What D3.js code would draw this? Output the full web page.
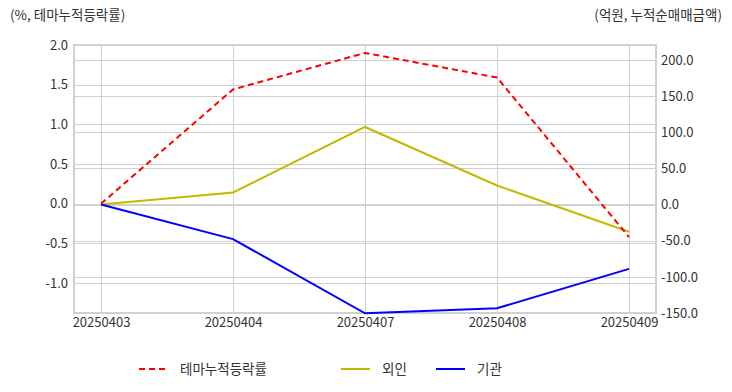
<!DOCTYPE html>
<html><head><meta charset="utf-8">
<script src="https://cdn.jsdelivr.net/npm/d3@7"></script>
<style>
html,body{margin:0;padding:0;background:#fff;}
text{font-family:"Noto Sans CJK KR","Noto Sans",sans-serif;}
</style></head>
<body><svg id="c" width="732" height="392"></svg>
<script>
const dates = ["20250403","20250404","20250407","20250408","20250409"];
const themeRate = [0.0, 1.44, 1.90, 1.59, -0.42];
const foreign = [0.0, 16.7, 107.4, 26.4, -37.5];
const inst = [0.0, -47.7, -150.4, -143.5, -88.9];
const leftTicks = [2.0, 1.5, 1.0, 0.5, 0.0, -0.5, -1.0];
const rightTicks = [200, 150, 100, 50, 0, -50, -100, -150];
const leftTitle = "(%, 테마누적등락률)";
const rightTitle = "(억원, 누적순매매금액)";
const seriesNames = ["테마누적등락률", "외인", "기관"];
const colors = ["#ff0000", "#c4b800", "#0000ff"];

const svg = d3.select("#c");
const L = 74, R = 656, T = 45, B = 313;
const x = d3.scalePoint().domain(dates).range([L, R]).padding(0.2045);
const yL = d3.scaleLinear().domain([-1.377, 2.0]).range([B, T]);
const yR = d3.scaleLinear().domain([-150, 220.8]).range([B, T]);
const grid = "#d0d0d0";
const fmt = d3.formatLocale({decimal: ".", thousands: ",", grouping: [3], currency: ["", ""], minus: "-"}).format(".1f");

// gridlines
svg.append("g").selectAll("line").data(leftTicks).join("line")
  .attr("x1", L).attr("x2", R).attr("y1", d => Math.round(yL(d)) + 0.5).attr("y2", d => Math.round(yL(d)) + 0.5)
  .attr("stroke", grid).attr("stroke-width", 1);
svg.append("g").selectAll("line").data(rightTicks).join("line")
  .attr("x1", L).attr("x2", R).attr("y1", d => Math.round(yR(d)) + 0.5).attr("y2", d => Math.round(yR(d)) + 0.5)
  .attr("stroke", grid).attr("stroke-width", 1);
svg.append("g").selectAll("line").data(dates).join("line")
  .attr("x1", d => Math.round(x(d)) + 0.5).attr("x2", d => Math.round(x(d)) + 0.5).attr("y1", T).attr("y2", B)
  .attr("stroke", grid).attr("stroke-width", 1);
// border
svg.append("rect").attr("x", L).attr("y", T).attr("width", R - L).attr("height", B - T)
  .attr("fill", "none").attr("stroke", "#d0d0d0").attr("stroke-width", 2);

// axes
const axL = svg.append("g").attr("transform", `translate(${L},0)`)
  .call(d3.axisLeft(yL).tickValues(leftTicks).tickFormat(fmt).tickSize(0).tickPadding(6));
const axR = svg.append("g").attr("transform", `translate(${R},0)`)
  .call(d3.axisRight(yR).tickValues(rightTicks).tickFormat(fmt).tickSize(0).tickPadding(5));
const axB = svg.append("g").attr("transform", `translate(0,${B})`)
  .call(d3.axisBottom(x).tickSize(0).tickPadding(5));
[axL, axR, axB].forEach(g => {
  g.select(".domain").remove();
  g.selectAll("text").attr("fill", "#333").style("font-size", "13px")
    .style("font-family", '"Noto Sans CJK KR","Noto Sans",sans-serif');
});

// titles
svg.append("text").attr("x", 10).attr("y", 20).attr("fill", "#333").style("font-size", "13.5px").text(leftTitle);
svg.append("text").attr("x", 722).attr("y", 20).attr("text-anchor", "end").attr("fill", "#333").style("font-size", "13.5px").text(rightTitle);

// lines
const lineL = d3.line().x((d, i) => x(dates[i])).y(d => yL(d));
const lineR = d3.line().x((d, i) => x(dates[i])).y(d => yR(d));
svg.append("path").datum(foreign).attr("d", lineR).attr("fill", "none").attr("stroke", colors[1]).attr("stroke-width", 2);
svg.append("path").datum(inst).attr("d", lineR).attr("fill", "none").attr("stroke", colors[2]).attr("stroke-width", 2);
svg.append("path").datum(themeRate).attr("d", lineL).attr("fill", "none").attr("stroke", colors[0]).attr("stroke-width", 2).attr("stroke-dasharray", "6,4");

// legend
const legX = [139, 341, 436];
const lg = svg.append("g");
seriesNames.forEach((n, i) => {
  lg.append("line").attr("x1", legX[i]).attr("x2", legX[i] + 29).attr("y1", 369).attr("y2", 369)
    .attr("stroke", colors[i]).attr("stroke-width", 2).attr("stroke-dasharray", i === 0 ? "6,4" : null);
  lg.append("text").attr("x", legX[i] + 41).attr("y", 374).attr("fill", "#333").style("font-size", "13.5px").text(n);
});
</script></body></html>
